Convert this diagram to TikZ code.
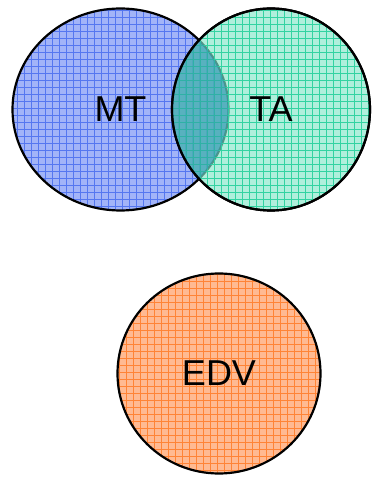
\documentclass[tikz,border=0pt]{standalone}
\usepackage{fontspec}
\setmainfont{Liberation Sans}
\usepackage{tikz}
\usetikzlibrary{%
        shapes.geometric,
        positioning,
    }
\definecolor{mtfill}{HTML}{A2B4F8}
\definecolor{mtgrid}{HTML}{5577F0}
\definecolor{tafill}{HTML}{86E6C9}
\definecolor{tagrid}{HTML}{33D3A2}
\definecolor{edvfill}{HTML}{FFBA92}
\definecolor{edvgrid}{HTML}{FF8436}
\definecolor{overlap}{HTML}{2C96AA}
\tikzset{%
    venn/.style={%
        ellipse,
        draw=black,
        line width=2.2pt,
        inner sep=0pt,
        text opacity=1,
        font=\fontsize{36}{40}\selectfont,
    },
    gridded/.style={%
        path picture={%
            \draw[#1, line width=0.5pt, step=7pt]
                (path picture bounding box.south west)
                grid (path picture bounding box.north east);
        },
    },
}

\begin{document}
\begin{tikzpicture}[x=1pt, y=1pt]

    \useasboundingbox (0, 0) rectangle (372, 477);

    %%%%%%%%%%%%%%%%
    % Top two sets %
    %%%%%%%%%%%%%%%%
    \node[%
        venn,
        fill=mtfill,
        gridded=mtgrid,
        minimum width=216pt,
        minimum height=202pt,
    ] (mt) at (120.5, 367.5) {MT};

    \node[%
        venn,
        fill=tafill,
        fill opacity=0.65,
        gridded=tagrid,
        minimum width=198pt,
        minimum height=202pt,
    ] (ta) at (271, 367.5) {TA};

    % Overlap
    \begin{scope}
        \clip (mt.center) ellipse [x radius=108pt, y radius=101pt];
        \fill[overlap, fill opacity=0.55]
            (ta.center) ellipse [x radius=99pt, y radius=101pt];
    \end{scope}
    \draw[line width=2.2pt] (ta.center) ellipse [x radius=99pt, y radius=101pt];

    %%%%%%%%%%%%%
    % Lower set %
    %%%%%%%%%%%%%
    \node[%
        venn,
        fill=edvfill,
        gridded=edvgrid,
        minimum width=203pt,
        minimum height=200pt,
    ] (edv) at (219, 103.5) {EDV};

\end{tikzpicture}
\end{document}
